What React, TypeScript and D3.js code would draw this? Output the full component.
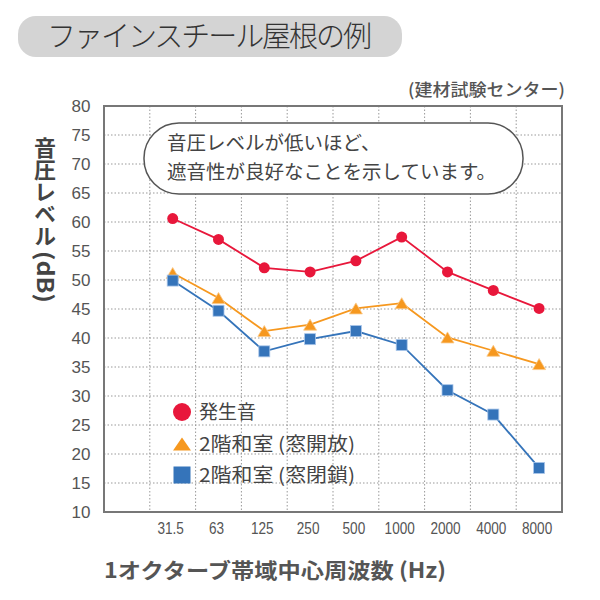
import React from 'react';
import * as d3 from 'd3';

const freqLabels = ['31.5', '63', '125', '250', '500', '1000', '2000', '4000', '8000'];
const generatedSound = [60.6, 57.0, 52.1, 51.4, 53.3, 57.4, 51.4, 48.2, 45.1];
const windowOpen = [51.2, 46.9, 41.2, 42.3, 45.1, 46.0, 40.1, 37.8, 35.5];
const windowClosed = [49.9, 44.7, 37.7, 39.8, 41.2, 38.8, 31.0, 26.8, 17.6];
const yTicks = [10, 15, 20, 25, 30, 35, 40, 45, 50, 55, 60, 65, 70, 75, 80];
const seriesNames = ['発生音', '2階和室 (窓開放)', '2階和室 (窓閉鎖)'];

const JP = '"Noto Sans CJK JP", "Noto Sans", sans-serif';
const NUM = '"Liberation Sans", Arial, sans-serif';

const RED = '#E8173B';
const ORANGE = '#F6981F';
const BLUE = '#3574BA';

const left = 104, right = 562, top = 106, bottom = 512;
const bandW = (right - left) / 10;

export default function App() {
  const x = d3.scaleBand<string>().domain(freqLabels).range([left + bandW, right]).padding(0);
  const y = d3.scaleLinear().domain([10, 80]).range([bottom, top]);
  const cx = (i: number) => (x(freqLabels[i]) as number) + x.bandwidth() / 2;
  const line = d3.line<number>().x((_, i) => cx(i)).y((d) => y(d));

  const tri = (px: number, py: number, w: number, h: number) =>
    `M${px},${py - h / 2}L${px + w / 2},${py + h / 2}L${px - w / 2},${py + h / 2}Z`;

  const gridX = freqLabels.map((f) => x(f) as number);
  const gridY = yTicks.filter((t) => t !== 10 && t !== 80);

  return (
    <svg width={600} height={600} style={{ position: 'absolute', left: 0, top: 0, display: 'block', background: '#fff' }}>
      {/* title */}
      <rect x={18} y={16} width={384} height={41} rx={18} ry={18} fill="#D4D4D4" />
      <text x={47} y={47} fontFamily={JP} fontSize={29} fontWeight={300} fill="#333" textLength={325} lengthAdjust="spacing">
        ファインスチール屋根の例
      </text>
      <text x={408} y={96} fontFamily={JP} fontSize={17} fontWeight={500} fill="#555" textLength={157} lengthAdjust="spacingAndGlyphs">
        (建材試験センター)
      </text>

      {/* grid */}
      {gridY.map((t) => (
        <line key={'gy' + t} x1={left} x2={right} y1={y(t)} y2={y(t)} stroke="#999" strokeWidth={1} strokeDasharray="1.5 2" />
      ))}
      {gridX.map((gx, i) => (
        <line key={'gx' + i} x1={gx} x2={gx} y1={top} y2={bottom} stroke="#999" strokeWidth={1} strokeDasharray="1.5 2" />
      ))}
      <rect x={left} y={top} width={right - left} height={bottom - top} fill="none" stroke="#777" strokeWidth={2} />

      {/* y ticks */}
      {yTicks.map((t) => (
        <text key={'yt' + t} x={90.5} y={y(t)} dy="0.36em" textAnchor="end" fontFamily={NUM} fontSize={17} fill="#555">
          {t}
        </text>
      ))}
      {/* x ticks */}
      {freqLabels.map((f, i) => (
        <text key={'xt' + f} transform={`translate(${cx(i) - 2},534) scale(0.8,1)`} textAnchor="middle" fontFamily={NUM} fontSize={17} fill="#555">
          {f}
        </text>
      ))}

      {/* y label */}
      <text x={45} y={137} fontFamily={JP} fontSize={22} fontWeight={700} fill="#444" style={{ writingMode: 'vertical-rl' as any }}>
        音圧レベル
      </text>
      <text transform="translate(37,251) rotate(90)" fontFamily={JP} fontSize={22} fontWeight={700} fill="#444" textLength={52} lengthAdjust="spacingAndGlyphs">
        (dB)
      </text>
      {/* x label */}
      <text x={104} y={578} fontFamily={JP} fontSize={21} fontWeight={700} fill="#555" textLength={342} lengthAdjust="spacingAndGlyphs">
        1オクターブ帯域中心周波数 (Hz)
      </text>

      {/* annotation */}
      <rect x={144} y={123} width={379} height={71} rx={35} ry={35} fill="#fff" stroke="#555" strokeWidth={1.5} />
      <text x={167} y={150} fontFamily={JP} fontSize={19.5} fill="#444">音圧レベルが低いほど、</text>
      <text x={167} y={179} fontFamily={JP} fontSize={19.5} fill="#444">遮音性が良好なことを示しています。</text>

      {/* series */}
      <path d={line(generatedSound) || ''} fill="none" stroke={RED} strokeWidth={1.8} />
      <path d={line(windowOpen) || ''} fill="none" stroke={ORANGE} strokeWidth={1.8} />
      <path d={line(windowClosed) || ''} fill="none" stroke={BLUE} strokeWidth={1.8} />
      {generatedSound.map((v, i) => (
        <circle key={'r' + i} cx={cx(i)} cy={y(v)} r={5.5} fill={RED} />
      ))}
      {windowOpen.map((v, i) => (
        <path key={'o' + i} d={tri(cx(i), y(v), 13, 11)} fill={ORANGE} stroke="#FAC98A" strokeWidth={0.8} />
      ))}
      {windowClosed.map((v, i) => (
        <rect key={'b' + i} x={cx(i) - 5.5} y={y(v) - 5.5} width={11} height={11} fill={BLUE} stroke="#A9C6EA" strokeWidth={0.8} />
      ))}

      {/* legend */}
      <circle cx={182} cy={412} r={9} fill={RED} />
      <path d={tri(182, 444, 18, 13)} fill={ORANGE} />
      <rect x={173.5} y={466.5} width={17} height={17} fill={BLUE} />
      <text x={199} y={419} fontFamily={JP} fontSize={19} fill="#444">{seriesNames[0]}</text>
      <text x={199} y={451} fontFamily={JP} fontSize={19} fill="#444" textLength={156} lengthAdjust="spacingAndGlyphs">{seriesNames[1]}</text>
      <text x={199} y={482} fontFamily={JP} fontSize={19} fill="#444" textLength={156} lengthAdjust="spacingAndGlyphs">{seriesNames[2]}</text>
    </svg>
  );
}
